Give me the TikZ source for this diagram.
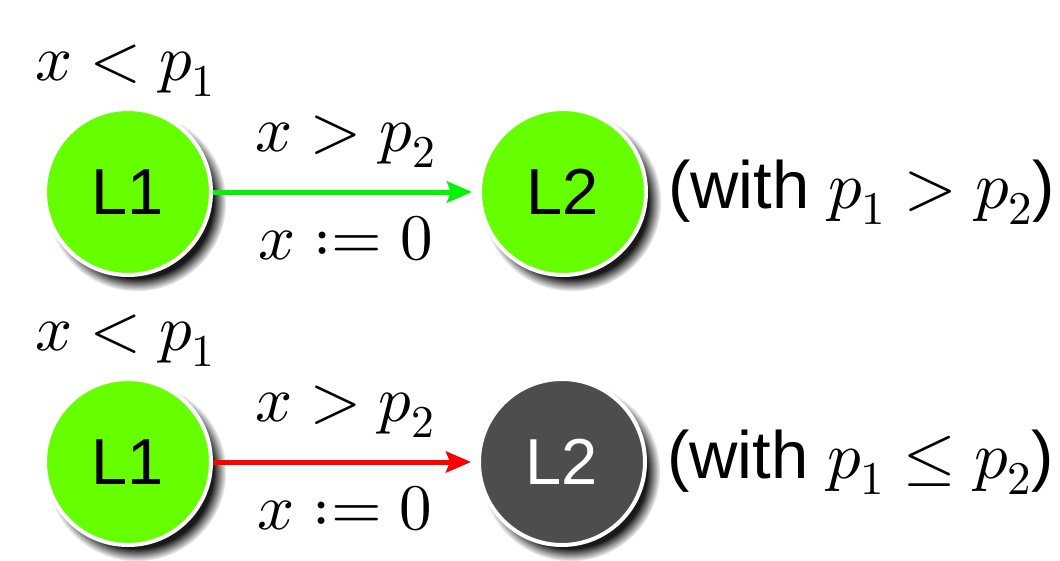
\documentclass[tikz,border=0pt]{standalone}
\usepackage{fontspec}
\usepackage{unicode-math}
\setmathfont{Latin Modern Math}
\setsansfont{Liberation Sans}
\usetikzlibrary{arrows.meta, positioning, shadows}
\definecolor{locgreen}{RGB}{102,255,0}
\definecolor{edgegreen}{RGB}{0,245,0}
\definecolor{locgray}{RGB}{77,77,77}

\begin{document}
\begin{tikzpicture}[
        x=1pt, y=-1pt,
        font=\fontsize{65}{78}\selectfont,
        loc/.style={circle, draw=white, line width=4pt, minimum size=166pt, inner sep=0pt, font=\fontsize{65}{78}\selectfont\sffamily,
            circular drop shadow={shadow xshift=8pt, shadow yshift=-9pt, shadow scale=1.08, fill=black, opacity=0.9}},
        arr/.style={-{Stealth[length=25pt, width=21pt, inset=4pt]}, line width=5pt, shorten >=6pt},
        lbl/.style={inner sep=2pt, text=black}
    ]
        \useasboundingbox (0,0) rectangle (1060,560);

        % Top row
        \node[loc, fill=locgreen] (l1a) at (128,192) {L1};
        \node[loc, fill=locgreen] (l2a) at (563,192) {L2};
        \node[lbl, anchor=base west] (inva) at (33,80) {$x<p_1$};
        \node[lbl, right=18pt of l2a] (conda) {\fontsize{67}{80}\selectfont\sffamily(with $p_1>p_2$)};
        \draw[arr, edgegreen] (l1a) -- node[lbl, above=20pt] (guarda) {$x>p_2$} node[lbl, below=20pt] (reseta) {$x:=0$} (l2a);

        % Bottom row
        \node[loc, fill=locgreen] (l1b) at (128,462) {L1};
        \node[loc, fill=locgray, text=white] (l2b) at (562,462) {L2};
        \node[lbl, anchor=base west] (invb) at (33,350) {$x<p_1$};
        \node[lbl, right=18pt of l2b] (condb) {\fontsize{67}{80}\selectfont\sffamily(with $p_1\leq p_2$)};
        \draw[arr, red] (l1b) -- node[lbl, above=20pt] (guardb) {$x>p_2$} node[lbl, below=20pt] (resetb) {$x:=0$} (l2b);
    \end{tikzpicture}
\end{document}
